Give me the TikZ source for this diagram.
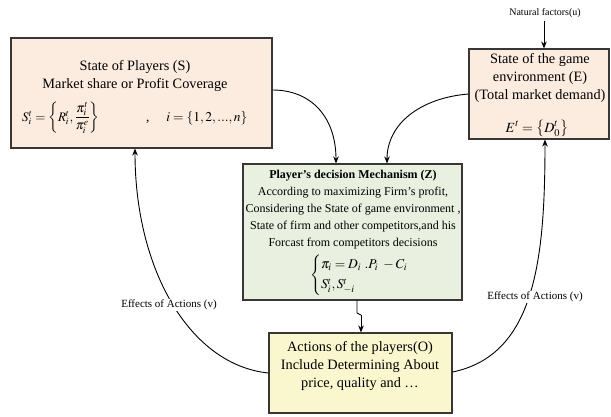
\documentclass[tikz,border=0pt]{standalone}
\usepackage{amsmath}
\usepackage{mathptmx}
\usepackage{fontspec}
\setmainfont{Liberation Serif}
\usetikzlibrary{arrows.meta}
\definecolor{peach}{RGB}{252,236,224}
\definecolor{sage}{RGB}{233,240,223}
\definecolor{cream}{RGB}{250,247,207}
\definecolor{edge}{RGB}{55,55,55}
\tikzset{
  box/.style={draw=edge, line width=1.1pt, inner sep=0pt},
  link/.style={line width=0.9pt, -{Stealth[length=7pt,width=5.5pt]}},
  lbl/.style={font=\fontsize{11}{13}\selectfont, fill=white, inner sep=1pt},
  big/.style={font=\fontsize{14.3}{18}\selectfont, align=center},
}
\begin{document}
\begin{tikzpicture}[x=1pt,y=-1pt]
\useasboundingbox (0,0) rectangle (611,416);
% boxes
\node[box, fill=peach, minimum width=261pt, minimum height=110pt] (S) at (141.5,93) {};
\node[box, fill=peach, minimum width=140pt, minimum height=90pt] (E) at (539,94) {};
\node[box, fill=sage, minimum width=219pt, minimum height=136pt] (Z) at (352.5,232) {};
\node[box, fill=cream, minimum width=183pt, minimum height=80pt] (O) at (360.5,373) {};
% state of players (base anchor sits on the last line)
\node[big, anchor=base] (St) at (135,88) {State of Players (S)\\Market share or Profit Coverage};
\node[anchor=base west, font=\fontsize{13}{16}\selectfont, inner sep=0pt] (Sf) at (22,121)
  {$S_i^t=\left\{R_i^t,\dfrac{\pi_i^t}{\pi_i^e}\right\}$};
\node[anchor=base west, font=\fontsize{13.5}{16}\selectfont, inner sep=0pt] (Si) at (146,121)
  {,\quad\ $i=\{1,2,...,n\}$};
% environment
\node[big, anchor=base] (Et) at (540,99) {State of the game\\environment (E)\\(Total market demand)};
\node[anchor=base, font=\fontsize{14}{18}\selectfont, inner sep=0pt] (Ef) at (537,132)
  {$E^t=\left\{D_0^t\right\}$};
\node[font=\fontsize{10}{12}\selectfont, anchor=base] (u) at (545,15) {Natural factors(u)};
\coordinate (u0) at (544,21);
% decision mechanism
\node[font=\fontsize{12}{17}\selectfont, align=center, anchor=base] (Zt) at (353,246)
  {\textbf{Player's decision Mechanism (Z)}\\According to maximizing Firm's profit,\\Considering the State of game environment ,\\State of firm and other competitors,and his\\Forcast from competitors decisions};
\node[font=\fontsize{13.5}{16}\selectfont, anchor=center, inner sep=0pt] (Zf) at (366,275)
  {$\begin{cases}\pi_i=D_i\ .P_i\ -C_i\\[1pt] S_i^t,S_{-i}^t\end{cases}$};
% actions
\node[big, anchor=base] (Ot) at (360,387) {Actions of the players(O)\\Include Determining About\\price, quality and \ldots};
% connectors
\draw[link] (u0) -- (u0 |- E.north);
\draw[link] (S.east |- 0,90) .. controls (312,90) and (336,118) .. (336,0 |- Z.north);
\draw[link] (E.west |- 0,94) .. controls (420,98) and (387,124) .. (387,0 |- Z.north);
\draw[line width=0.9pt] (357,0 |- Z.south) -- (357,313) -- (361,315) coordinate (zj);
\draw[link] (zj) -- (zj |- O.north);
\draw[link] (O.west |- 0,373) .. controls (190,365) and (135,270) .. (135,0 |- S.south);
\draw[link] (O.east |- 0,372) .. controls (535,355) and (545,260) .. (545,0 |- E.south);
\node[lbl] (vl) at (169,305) {Effects of Actions (v)};
\node[lbl] (vr) at (535,297) {Effects of Actions (v)};
\end{tikzpicture}
\end{document}
